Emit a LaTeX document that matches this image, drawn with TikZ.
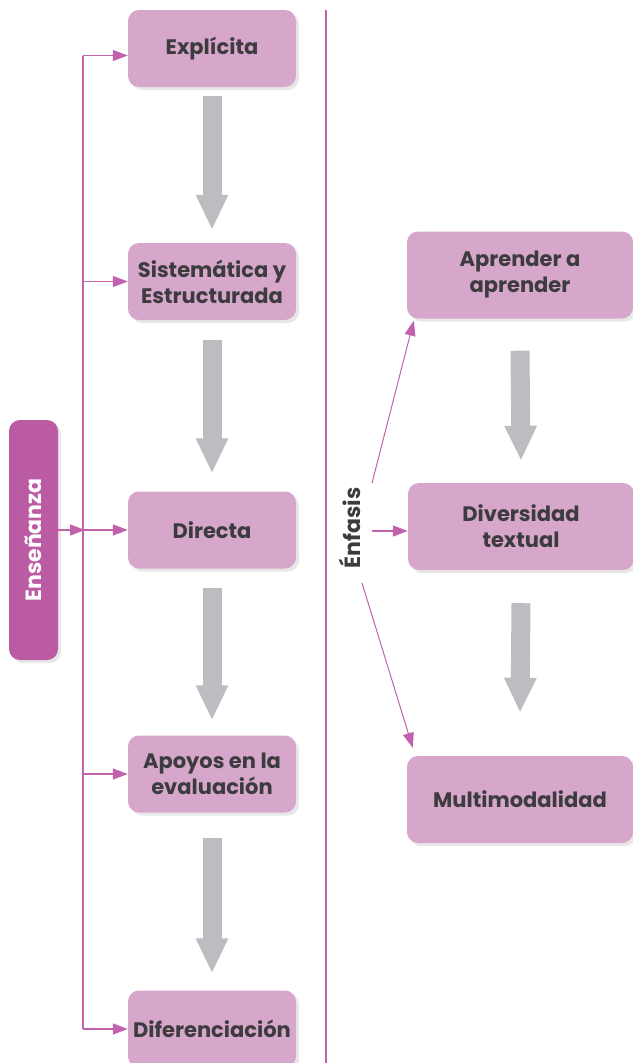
\documentclass[tikz,border=0pt]{standalone}
\usepackage{fontspec}
\setmainfont{Poppins}
\usetikzlibrary{arrows.meta,shadows}

\definecolor{boxpink}{HTML}{D7A6CB}
\definecolor{deeppink}{HTML}{BB5BA3}
\definecolor{linepink}{HTML}{C262AC}
\definecolor{arrowgray}{HTML}{BCBDC1}
\definecolor{textgray}{HTML}{3C3C3E}

\tikzset{
  stagebox/.style={draw=none, fill=boxpink, rounded corners=11pt,
    minimum width=168pt, minimum height=77pt, align=center, inner sep=2pt,
    text=textgray, font=\fontsize{21}{26}\selectfont\bfseries,
    drop shadow={opacity=0.18, shadow xshift=3pt, shadow yshift=-3pt}},
  focusbox/.style={stagebox, minimum width=226pt, minimum height=87pt},
  pinkline/.style={draw=linepink, line width=1.4pt},
  pinkarrow/.style={pinkline, -{Triangle[length=15pt,width=11pt]}},
  grayarrow/.style={draw=arrowgray, line width=19pt,
    -{Triangle[length=35pt,width=30pt]}}
}

\begin{document}
\begin{tikzpicture}[x=1pt, y=-1pt]
  \useasboundingbox (0,0) rectangle (632,1063);

  % Boxes (left)
  \node[stagebox] (exp) at (212,48.5) {Explícita};
  \node[stagebox] (sis) at (212,281.5) {Sistemática y\\Estructurada};
  \node[stagebox] (dir) at (212,530) {Directa};
  \node[stagebox] (apo) at (212,774) {Apoyos en la\\evaluación};
  \node[stagebox] (dif) at (212,1029) {Diferenciación};

  % Big arrows (left)
  \draw[grayarrow] ([yshift=-9pt]exp.south) -- ([yshift=13pt]sis.north);
  \draw[grayarrow] ([yshift=-20pt]sis.south) -- ([yshift=18pt]dir.north);
  \draw[grayarrow] ([yshift=-19pt]dir.south) -- ([yshift=15pt]apo.north);
  \draw[grayarrow] ([yshift=-25pt]apo.south) -- ([yshift=17pt]dif.north);

  % Enseñanza and spine
  \node[fill=deeppink, rounded corners=11pt, rotate=90,
    minimum width=240pt, minimum height=49pt, text=white,
    font=\fontsize{22}{24}\selectfont\bfseries,
    drop shadow={opacity=0.18, shadow xshift=3pt, shadow yshift=-3pt}]
    (ens) at (33.5,540) {Enseñanza};
  \coordinate (spine) at (83,0);
  \draw[pinkline] ([yshift=-7pt]exp.west -| spine) -- (dif.west -| spine);
  \draw[pinkarrow] (ens.south |- dir.west) -- ([xshift=2pt]dir.west -| spine);
  \draw[pinkarrow] ([yshift=-7pt]exp.west -| spine) -- ([yshift=-7pt]exp.west);
  \draw[pinkarrow] (sis.west -| spine) -- (sis.west);
  \draw[pinkarrow] (dir.west -| spine) -- (dir.west);
  \draw[pinkarrow] (apo.west -| spine) -- (apo.west);
  \draw[pinkarrow] (dif.west -| spine) -- (dif.west);

  % Divider
  \draw[pinkline] (326,10) -- (326,1063);

  % Boxes (right)
  \node[focusbox] (apr) at (520,275) {Aprender a\\aprender};
  \node[focusbox] (div) at (521,526.5) {Diversidad\\textual};
  \node[focusbox] (mul) at (520,799.5) {Multimodalidad};

  % Big arrows (right)
  \draw[grayarrow] ([yshift=-32pt]apr.south) -- ([yshift=22pt]div.north);
  \draw[grayarrow] ([yshift=-33pt]div.south) -- ([yshift=43pt]mul.north);

  % Énfasis
  \node[rotate=90, text=textgray, font=\fontsize{22}{24}\selectfont\bfseries]
    (enf) at (350,528) {Énfasis};
  \coordinate (enfa) at (372,483);
  \coordinate (enfb) at (372,531);
  \coordinate (enfc) at (362,583);
  \draw[pinkarrow, line width=1pt] (enfa) -- ([xshift=7pt,yshift=-2pt]apr.south west);
  \draw[pinkarrow] (enfb) -- (enfb -| div.west);
  \draw[pinkarrow, line width=1pt] (enfc) -- ([xshift=6pt,yshift=8pt]mul.north west);
\end{tikzpicture}
\end{document}
